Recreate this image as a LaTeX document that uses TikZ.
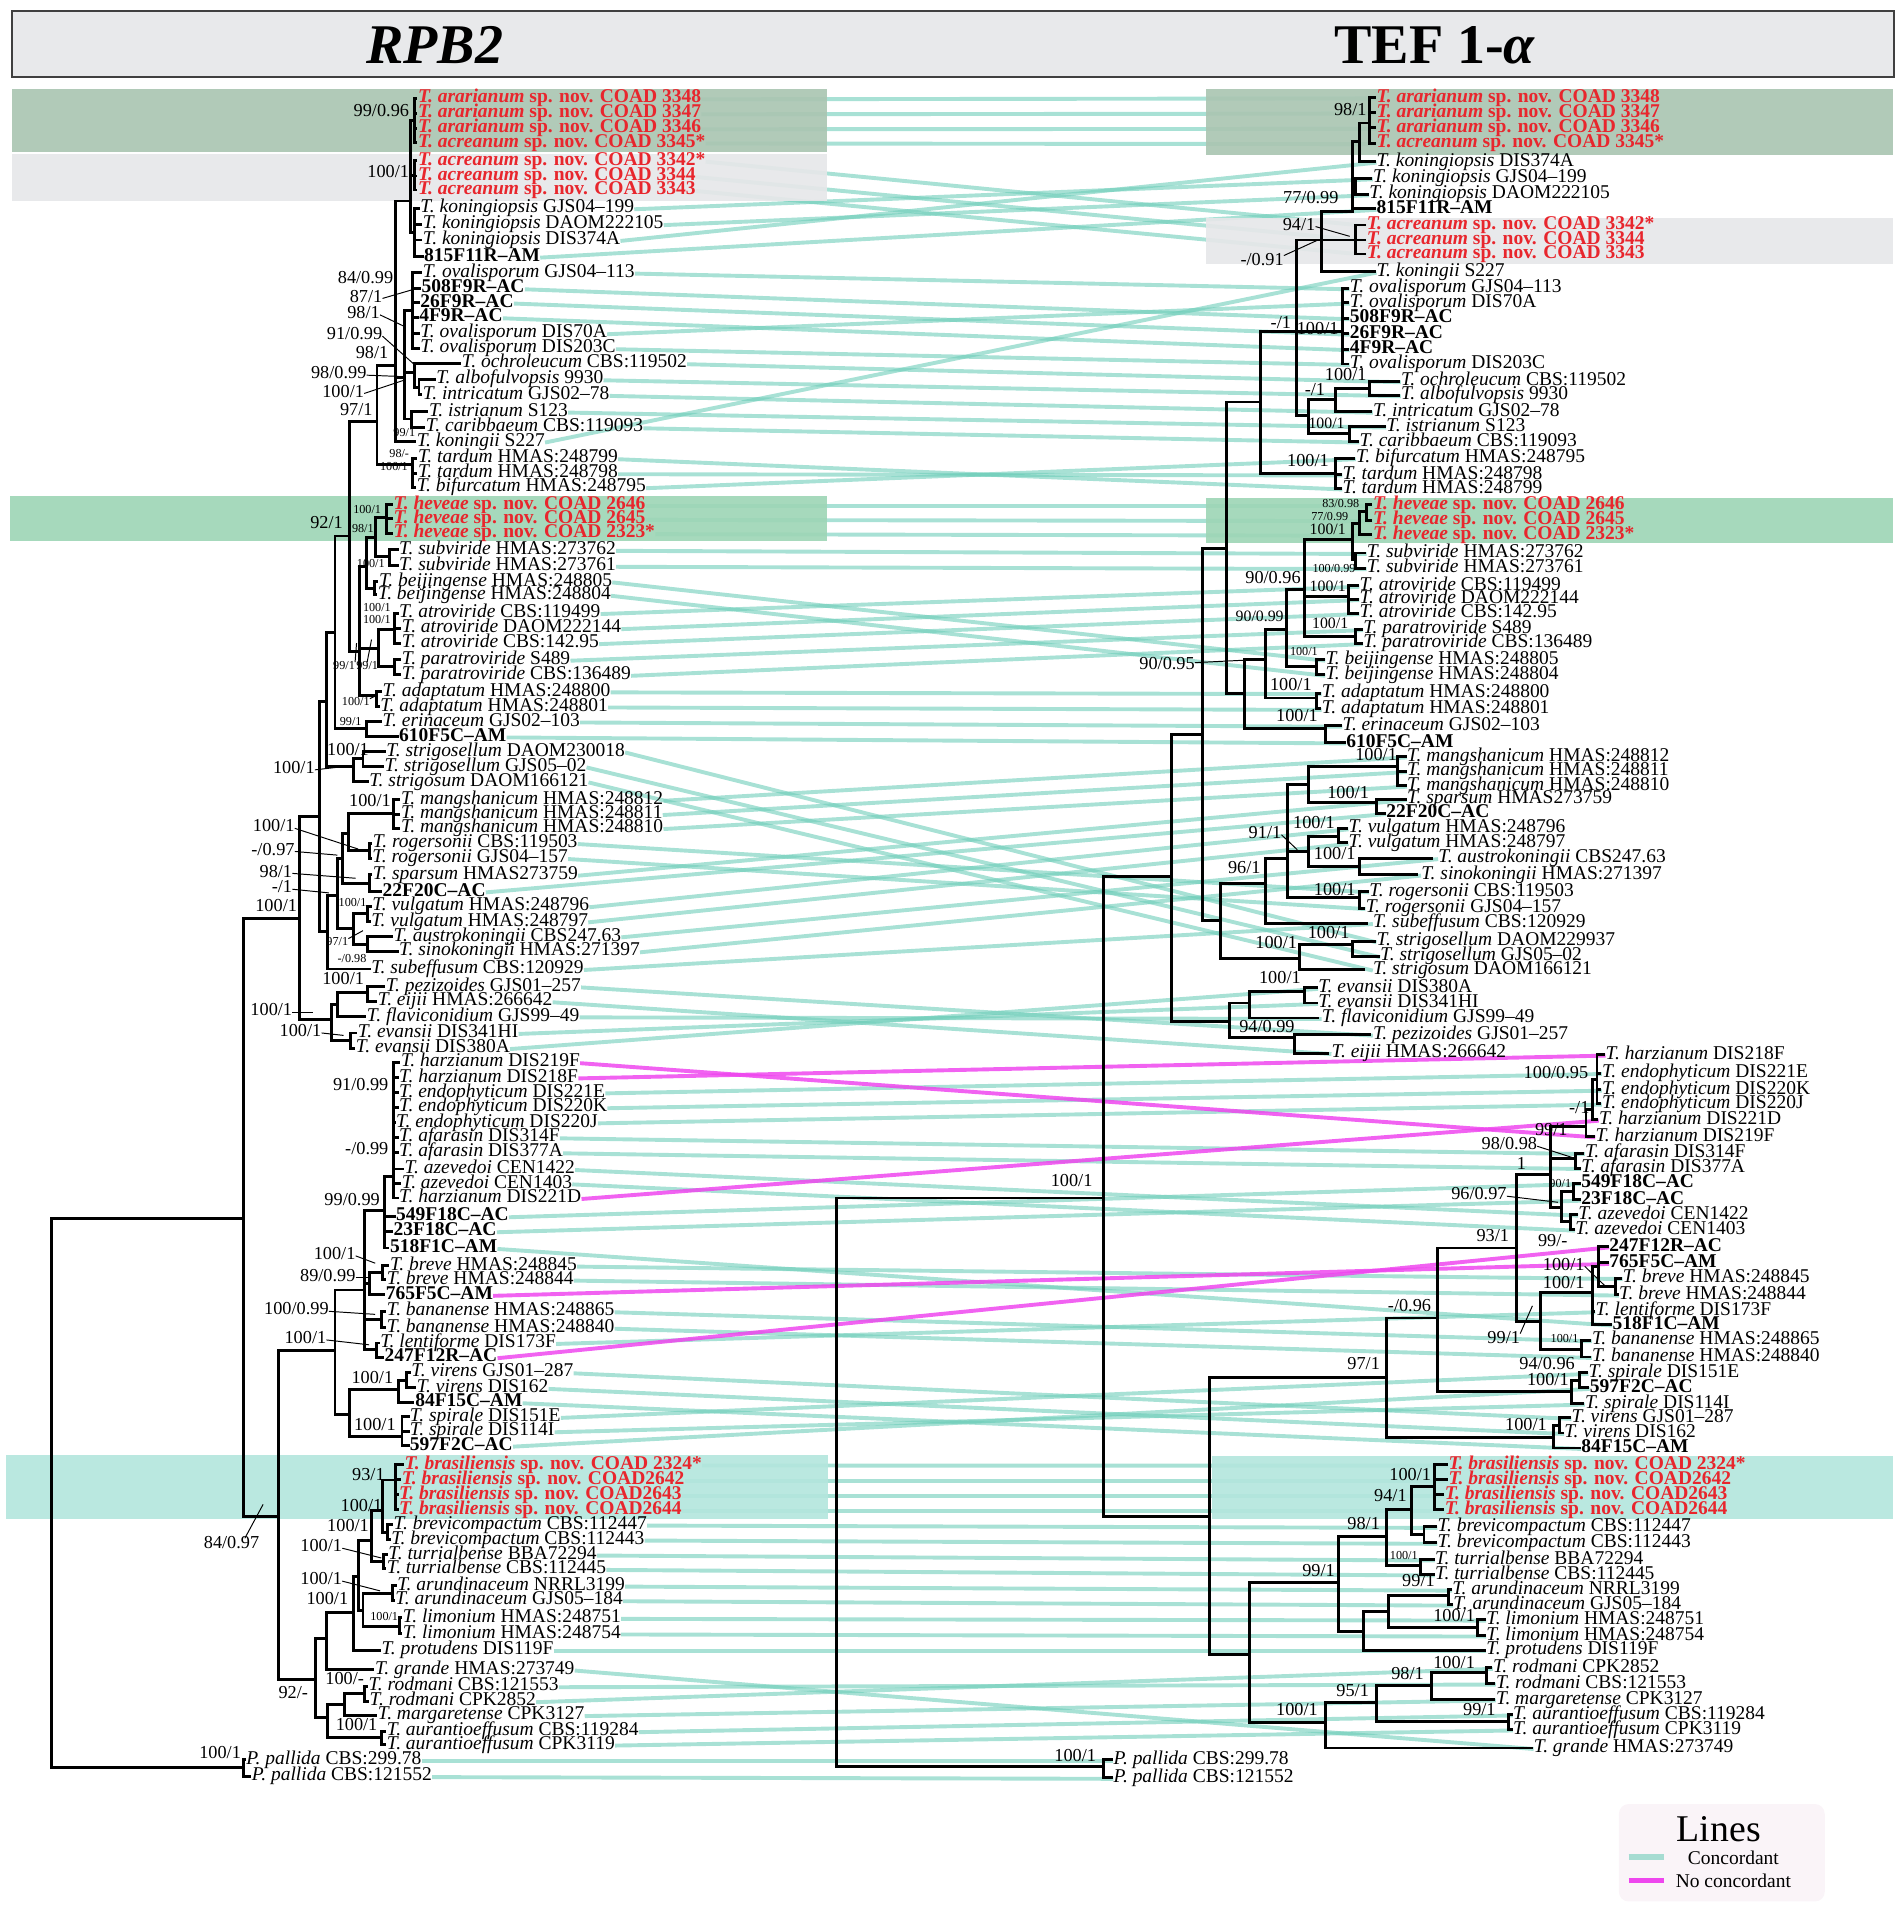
\documentclass[tikz,border=0pt]{standalone}
\usepackage{fontspec}
\setmainfont{Liberation Serif}
\pgfdeclarelayer{lines}
\pgfdeclarelayer{bands}
\pgfsetlayers{lines,bands,main}
\definecolor{novred}{RGB}{232,38,45}
\definecolor{sage}{RGB}{170,197,178}
\definecolor{bandgray}{RGB}{230,231,233}
\definecolor{bandgreen}{RGB}{158,214,182}
\definecolor{bandcyan}{RGB}{180,230,221}
\definecolor{concol}{RGB}{110,205,185}
\definecolor{nocol}{RGB}{238,70,238}
\definecolor{titlegray}{RGB}{232,233,235}
\definecolor{legbg}{RGB}{250,244,248}
\newcommand\tsp[2]{\textit{#1} #2}
\newcommand\tnov[2]{\textcolor{novred}{\bfseries\textit{#1} sp. nov. #2}}
\newcommand\tbd[1]{\textbf{#1}}
\newcommand\cl[4]{\draw[tree] (#1,#2) -- (#1,#3); \foreach \cy/\cx in {#4} {\draw[tree] (#1,\cy) -- (\cx,\cy);}}
\tikzset{
  tree/.style={line width=2.4pt, line cap=rect},
  lab/.style={anchor=west, inner sep=0pt, text height=8pt, text depth=2pt, yshift=-0.8pt, font=\fontsize{16}{16}\selectfont},
  sup/.style={anchor=east, inner sep=0pt, text height=8pt, text depth=2pt, font=\fontsize{15}{15}\selectfont},
  supm/.style={anchor=east, inner sep=0pt, text height=7pt, text depth=1.5pt, font=\fontsize{13}{13}\selectfont},
  sups/.style={anchor=east, inner sep=0pt, text height=5.5pt, text depth=1pt, font=\fontsize{10}{10}\selectfont},
  lead/.style={line width=0.8pt},
  conc/.style={draw=concol, line width=3.2pt, opacity=0.6},
  nocon/.style={draw=nocol, line width=3.2pt, opacity=0.85},
  band/.style={opacity=0.92}
}
\begin{document}
\begin{tikzpicture}[x=1pt,y=-1pt]
\useasboundingbox (0,0) rectangle (1561,1568);
% title bar
\draw[fill=titlegray, draw=black!75, line width=1.5pt] (10,9) rectangle (1555,63);
\node[font=\fontsize{46}{46}\selectfont\bfseries\itshape] (t1) at (357,37) {RPB2};
\node[font=\fontsize{46}{46}\selectfont\bfseries] (t2) at (1178,37) {TEF 1-\textit{α}};
% bands
\begin{pgfonlayer}{bands}
\fill[sage,band] (10,73.3) rectangle (679,124.5);
\fill[bandgray,band] (10,126.4) rectangle (679,164.7);
\fill[bandgreen,band] (8,407) rectangle (679,444.5);
\fill[bandcyan,band] (5,1194.7) rectangle (680,1246.7);
\fill[sage,band] (990,73.3) rectangle (1554,127.2);
\fill[bandgray,band] (990,179.2) rectangle (1554,217);
\fill[bandgreen,band] (990,409) rectangle (1554,446);
\fill[bandcyan,band] (995,1195.5) rectangle (1554,1247);
\end{pgfonlayer}
% left labels
\foreach \i/\xx/\yy/\lt in {
1/343/80.7/{\tnov{T. ararianum}{COAD 3348}},
2/343/93/{\tnov{T. ararianum}{COAD 3347}},
3/343/105.3/{\tnov{T. ararianum}{COAD 3346}},
4/343/117/{\tnov{T. acreanum}{COAD 3345*}},
5/343/131.9/{\tnov{T. acreanum}{COAD 3342*}},
6/343/144.5/{\tnov{T. acreanum}{COAD 3344}},
7/343/156/{\tnov{T. acreanum}{COAD 3343}},
8/345/171/{\tsp{T. koningiopsis}{GJS04–199}},
9/347/184/{\tsp{T. koningiopsis}{DAOM222105}},
10/347/197/{\tsp{T. koningiopsis}{DIS374A}},
11/348/210.7/{\tbd{815F11R–AM}},
12/347/223.8/{\tsp{T. ovalisporum}{GJS04–113}},
13/346/236.7/{\tbd{508F9R–AC}},
14/345/248.4/{\tbd{26F9R–AC}},
15/344/260.5/{\tbd{4F9R–AC}},
16/345/273.6/{\tsp{T. ovalisporum}{DIS70A}},
17/345/285.9/{\tsp{T. ovalisporum}{DIS203C}},
18/379/298.2/{\tsp{T. ochroleucum}{CBS:119502}},
19/358/311.4/{\tsp{T. albofulvopsis}{9930}},
20/347/324.2/{\tsp{T. intricatum}{GJS02–78}},
21/352/337.9/{\tsp{T. istrianum}{S123}},
22/349.5/350.8/{\tsp{T. caribbaeum}{CBS:119093}},
23/342/362.5/{\tsp{T. koningii}{S227}},
24/343/376.2/{\tsp{T. tardum}{HMAS:248799}},
25/343/388.5/{\tsp{T. tardum}{HMAS:248798}},
26/342/400/{\tsp{T. bifurcatum}{HMAS:248795}},
27/323/414.4/{\tnov{T. heveae}{COAD 2646}},
28/323/426/{\tnov{T. heveae}{COAD 2645}},
29/323/437.7/{\tnov{T. heveae}{COAD 2323*}},
30/327.5/451.4/{\tsp{T. subviride}{HMAS:273762}},
31/327.5/464.5/{\tsp{T. subviride}{HMAS:273761}},
32/311/477.3/{\tsp{T. beijingense}{HMAS:248805}},
33/310/488.3/{\tsp{T. beijingense}{HMAS:248804}},
34/327.5/503.3/{\tsp{T. atroviride}{CBS:119499}},
35/329.7/515.7/{\tsp{T. atroviride}{DAOM222144}},
36/329.7/528/{\tsp{T. atroviride}{CBS:142.95}},
37/329.7/541.6/{\tsp{T. paratroviride}{S489}},
38/329.7/554/{\tsp{T. paratroviride}{CBS:136489}},
39/314/567.6/{\tsp{T. adaptatum}{HMAS:248800}},
40/312/580/{\tsp{T. adaptatum}{HMAS:248801}},
41/314/592.3/{\tsp{T. erinaceum}{GJS02–103}},
42/327.5/604.6/{\tbd{610F5C–AM}},
43/317/616.9/{\tsp{T. strigosellum}{DAOM230018}},
44/315.6/629.2/{\tsp{T. strigosellum}{GJS05–02}},
45/303/641.5/{\tsp{T. strigosum}{DAOM166121}},
46/329/656.6/{\tsp{T. mangshanicum}{HMAS:248812}},
47/329/668.3/{\tsp{T. mangshanicum}{HMAS:248811}},
48/329/679.8/{\tsp{T. mangshanicum}{HMAS:248810}},
49/306/692.1/{\tsp{T. rogersonii}{CBS:119503}},
50/305.5/704.4/{\tsp{T. rogersonii}{GJS04–157}},
51/306/718.1/{\tsp{T. sparsum}{HMAS273759}},
52/314/731.8/{\tbd{22F20C–AC}},
53/305.5/744/{\tsp{T. vulgatum}{HMAS:248796}},
54/304.6/756.4/{\tsp{T. vulgatum}{HMAS:248797}},
55/323/768.7/{\tsp{T. austrokoningii}{CBS247.63}},
56/327.5/781/{\tsp{T. sinokoningii}{HMAS:271397}},
57/304.6/795.5/{\tsp{T. subeffusum}{CBS:120929}},
58/316.5/809.8/{\tsp{T. pezizoides}{GJS01–257}},
59/310/822/{\tsp{T. eijii}{HMAS:266642}},
60/301/834.4/{\tsp{T. flaviconidium}{GJS99–49}},
61/293.6/848/{\tsp{T. evansii}{DIS341HI}},
62/292/860.4/{\tsp{T. evansii}{DIS380A}},
63/329/872/{\tsp{T. harzianum}{DIS219F}},
64/327.5/884.5/{\tsp{T. harzianum}{DIS218F}},
65/327.5/896.8/{\tsp{T. endophyticum}{DIS221E}},
66/327.5/909/{\tsp{T. endophyticum}{DIS220K}},
67/325/921.4/{\tsp{T. endophyticum}{DIS220J}},
68/327.5/933.7/{\tsp{T. afarasin}{DIS314F}},
69/327.5/946/{\tsp{T. afarasin}{DIS377A}},
70/332/959.7/{\tsp{T. azevedoi}{CEN1422}},
71/329.7/971.5/{\tsp{T. azevedoi}{CEN1403}},
72/327.5/983.5/{\tsp{T. harzianum}{DIS221D}},
73/325/998.5/{\tbd{549F18C–AC}},
74/323/1010.8/{\tbd{23F18C–AC}},
75/320/1024.5/{\tbd{518F1C–AM}},
76/320/1039/{\tsp{T. breve}{HMAS:248845}},
77/317.4/1050.5/{\tsp{T. breve}{HMAS:248844}},
78/316.5/1063/{\tbd{765F5C–AM}},
79/317.4/1076.5/{\tsp{T. bananense}{HMAS:248865}},
80/317.4/1090/{\tsp{T. bananense}{HMAS:248840}},
81/312/1102.5/{\tsp{T. lentiforme}{DIS173F}},
82/315.6/1114.2/{\tbd{247F12R–AC}},
83/337.6/1126.6/{\tsp{T. virens}{GJS01–287}},
84/342/1139.4/{\tsp{T. virens}{DIS162}},
85/340.7/1151.2/{\tbd{84F15C–AM}},
86/336.3/1163.2/{\tsp{T. spirale}{DIS151E}},
87/336.3/1175/{\tsp{T. spirale}{DIS114I}},
88/336.3/1186.8/{\tbd{597F2C–AC}},
89/332/1202.3/{\tnov{T. brasiliensis}{COAD 2324*}},
90/329.7/1214.7/{\tnov{T. brasiliensis}{COAD2642}},
91/327.5/1227/{\tnov{T. brasiliensis}{COAD2643}},
92/327.5/1239.3/{\tnov{T. brasiliensis}{COAD2644}},
93/323/1251.6/{\tsp{T. brevicompactum}{CBS:112447}},
94/321/1263.9/{\tsp{T. brevicompactum}{CBS:112443}},
95/318.7/1276.2/{\tsp{T. turrialbense}{BBA72294}},
96/317.4/1288/{\tsp{T. turrialbense}{CBS:112445}},
97/326/1301.7/{\tsp{T. arundinaceum}{NRRL3199}},
98/324.4/1313.7/{\tsp{T. arundinaceum}{GJS05–184}},
99/330.6/1328.2/{\tsp{T. limonium}{HMAS:248751}},
100/330.6/1341/{\tsp{T. limonium}{HMAS:248754}},
101/313/1354.7/{\tsp{T. protudens}{DIS119F}},
102/307.7/1370.6/{\tsp{T. grande}{HMAS:273749}},
103/302.4/1384.3/{\tsp{T. rodmani}{CBS:121553}},
104/303.3/1396.6/{\tsp{T. rodmani}{CPK2852}},
105/310/1408/{\tsp{T. margaretense}{CPK3127}},
106/317.4/1421.2/{\tsp{T. aurantioeffusum}{CBS:119284}},
107/317.4/1432.2/{\tsp{T. aurantioeffusum}{CPK3119}},
108/202/1444.5/{\tsp{P. pallida}{CBS:299.78}},
109/206.6/1458.1/{\tsp{P. pallida}{CBS:121552}}
}{\node[lab] (L\i) at (\xx,\yy) {\lt};}
% right labels
\foreach \i/\xx/\yy/\lt in {
1/1130/80/{\tnov{T. ararianum}{COAD 3348}},
2/1130/92.5/{\tnov{T. ararianum}{COAD 3347}},
3/1130/105/{\tnov{T. ararianum}{COAD 3346}},
4/1130/117.5/{\tnov{T. acreanum}{COAD 3345*}},
5/1130/132.7/{\tsp{T. koningiopsis}{DIS374A}},
6/1127/146.4/{\tsp{T. koningiopsis}{GJS04–199}},
7/1124/159.5/{\tsp{T. koningiopsis}{DAOM222105}},
8/1130/171.5/{\tbd{815F11R–AM}},
9/1122/184.7/{\tnov{T. acreanum}{COAD 3342*}},
10/1122/197/{\tnov{T. acreanum}{COAD 3344}},
11/1122/208.5/{\tnov{T. acreanum}{COAD 3343}},
12/1130/223/{\tsp{T. koningii}{S227}},
13/1108/236.7/{\tsp{T. ovalisporum}{GJS04–113}},
14/1108/248.4/{\tsp{T. ovalisporum}{DIS70A}},
15/1108/261.3/{\tbd{508F9R–AC}},
16/1108/274/{\tbd{26F9R–AC}},
17/1108/286.7/{\tbd{4F9R–AC}},
18/1108/298.8/{\tsp{T. ovalisporum}{DIS203C}},
19/1150/313/{\tsp{T. ochroleucum}{CBS:119502}},
20/1150/324.5/{\tsp{T. albofulvopsis}{9930}},
21/1127/338/{\tsp{T. intricatum}{GJS02–78}},
22/1138/350.2/{\tsp{T. istrianum}{S123}},
23/1116/362.5/{\tsp{T. caribbaeum}{CBS:119093}},
24/1113/376.2/{\tsp{T. bifurcatum}{HMAS:248795}},
25/1102/389.5/{\tsp{T. tardum}{HMAS:248798}},
26/1102/401/{\tsp{T. tardum}{HMAS:248799}},
27/1127/414.4/{\tnov{T. heveae}{COAD 2646}},
28/1127/427/{\tnov{T. heveae}{COAD 2645}},
29/1127/439/{\tnov{T. heveae}{COAD 2323*}},
30/1122/454/{\tsp{T. subviride}{HMAS:273762}},
31/1122/466.4/{\tsp{T. subviride}{HMAS:273761}},
32/1116/480.9/{\tsp{T. atroviride}{CBS:119499}},
33/1116/491.8/{\tsp{T. atroviride}{DAOM222144}},
34/1116/503.3/{\tsp{T. atroviride}{CBS:142.95}},
35/1119/516.5/{\tsp{T. paratroviride}{S489}},
36/1119/528/{\tsp{T. paratroviride}{CBS:136489}},
37/1088/541.6/{\tsp{T. beijingense}{HMAS:248805}},
38/1088/554/{\tsp{T. beijingense}{HMAS:248804}},
39/1085/569/{\tsp{T. adaptatum}{HMAS:248800}},
40/1085/582/{\tsp{T. adaptatum}{HMAS:248801}},
41/1102/595.8/{\tsp{T. erinaceum}{GJS02–103}},
42/1105/609.5/{\tbd{610F5C–AM}},
43/1155/621/{\tsp{T. mangshanicum}{HMAS:248812}},
44/1155/633/{\tsp{T. mangshanicum}{HMAS:248811}},
45/1155/645/{\tsp{T. mangshanicum}{HMAS:248810}},
46/1155/656/{\tsp{T. sparsum}{HMAS273759}},
47/1138/667.5/{\tbd{22F20C–AC}},
48/1107/680/{\tsp{T. vulgatum}{HMAS:248796}},
49/1107/692/{\tsp{T. vulgatum}{HMAS:248797}},
50/1180.6/704.5/{\tsp{T. austrokoningii}{CBS247.63}},
51/1166.6/718/{\tsp{T. sinokoningii}{HMAS:271397}},
52/1124/731.8/{\tsp{T. rogersonii}{CBS:119503}},
53/1121/745.5/{\tsp{T. rogersonii}{GJS04–157}},
54/1127/757.8/{\tsp{T. subeffusum}{CBS:120929}},
55/1130/772.8/{\tsp{T. strigosellum}{DAOM229937}},
56/1133/785/{\tsp{T. strigosellum}{GJS05–02}},
57/1127/796/{\tsp{T. strigosum}{DAOM166121}},
58/1082/811/{\tsp{T. evansii}{DIS380A}},
59/1082/823.4/{\tsp{T. evansii}{DIS341HI}},
60/1085/835.7/{\tsp{T. flaviconidium}{GJS99–49}},
61/1127/849.4/{\tsp{T. pezizoides}{GJS01–257}},
62/1093/864.5/{\tsp{T. eijii}{HMAS:266642}},
63/1318/865.8/{\tsp{T. harzianum}{DIS218F}},
64/1315/880.9/{\tsp{T. endophyticum}{DIS221E}},
65/1315/894.6/{\tsp{T. endophyticum}{DIS220K}},
66/1315/906/{\tsp{T. endophyticum}{DIS220J}},
67/1312.5/919.2/{\tsp{T. harzianum}{DIS221D}},
68/1309.6/932.9/{\tsp{T. harzianum}{DIS219F}},
69/1301/946.6/{\tsp{T. afarasin}{DIS314F}},
70/1298/958.9/{\tsp{T. afarasin}{DIS377A}},
71/1298/971.2/{\tbd{549F18C–AC}},
72/1298/984.9/{\tbd{23F18C–AC}},
73/1295.6/997.2/{\tsp{T. azevedoi}{CEN1422}},
74/1293/1009.5/{\tsp{T. azevedoi}{CEN1403}},
75/1321/1023.2/{\tbd{247F12R–AC}},
76/1321/1036.8/{\tbd{765F5C–AM}},
77/1332/1049.2/{\tsp{T. breve}{HMAS:248845}},
78/1329/1062.8/{\tsp{T. breve}{HMAS:248844}},
79/1309.6/1076.5/{\tsp{T. lentiforme}{DIS173F}},
80/1323.7/1087.4/{\tbd{518F1C–AM}},
81/1306.8/1100.3/{\tsp{T. bananense}{HMAS:248865}},
82/1306.8/1114/{\tsp{T. bananense}{HMAS:248840}},
83/1304/1127.1/{\tsp{T. spirale}{DIS151E}},
84/1305/1139.4/{\tbd{597F2C–AC}},
85/1301/1152.3/{\tsp{T. spirale}{DIS114I}},
86/1290/1164/{\tsp{T. virens}{GJS01–287}},
87/1284/1176.4/{\tsp{T. virens}{DIS162}},
88/1298/1188.7/{\tbd{84F15C–AM}},
89/1189/1202.4/{\tnov{T. brasiliensis}{COAD 2324*}},
90/1189/1214.7/{\tnov{T. brasiliensis}{COAD2642}},
91/1186/1227/{\tnov{T. brasiliensis}{COAD2643}},
92/1186/1239.3/{\tnov{T. brasiliensis}{COAD2644}},
93/1180/1253.5/{\tsp{T. brevicompactum}{CBS:112447}},
94/1180/1266.6/{\tsp{T. brevicompactum}{CBS:112443}},
95/1178/1280.3/{\tsp{T. turrialbense}{BBA72294}},
96/1178/1292.6/{\tsp{T. turrialbense}{CBS:112445}},
97/1192/1305/{\tsp{T. arundinaceum}{NRRL3199}},
98/1193/1317.3/{\tsp{T. arundinaceum}{GJS05–184}},
99/1220/1329.6/{\tsp{T. limonium}{HMAS:248751}},
100/1220/1342.7/{\tsp{T. limonium}{HMAS:248754}},
101/1220/1354.7/{\tsp{T. protudens}{DIS119F}},
102/1225.5/1369.2/{\tsp{T. rodmani}{CPK2852}},
103/1228/1382.1/{\tsp{T. rodmani}{CBS:121553}},
104/1228/1395.2/{\tsp{T. margaretense}{CPK3127}},
105/1242/1407.5/{\tsp{T. aurantioeffusum}{CBS:119284}},
106/1242/1419.8/{\tsp{T. aurantioeffusum}{CPK3119}},
107/1259/1435/{\tsp{T. grande}{HMAS:273749}},
108/914/1444.5/{\tsp{P. pallida}{CBS:299.78}},
109/914/1459.5/{\tsp{P. pallida}{CBS:121552}}
}{\node[lab] (R\i) at (\xx,\yy) {\lt};}
% connectors
\begin{pgfonlayer}{lines}
\foreach \a/\b in {1/1,2/2,3/3,4/4,5/9,6/10,7/11,8/6,9/7,10/5,11/8,12/13,13/15,14/16,15/17,16/14,17/18,18/19,19/20,20/21,21/22,22/23,23/12,24/26,25/25,26/24,27/27,28/28,29/29,30/30,31/31,32/37,33/38,34/32,35/33,36/34,37/35,38/36,39/39,40/40,41/41,42/42,43/55,44/56,45/57,46/43,47/44,48/45,49/52,50/53,51/46,52/47,53/48,54/49,55/50,56/51,57/54,58/61,59/62,60/60,61/59,62/58,65/64,66/65,67/66,68/69,69/70,70/73,71/74,73/71,74/72,75/80,76/77,77/78,79/81,80/82,81/79,83/86,84/87,85/88,86/83,87/85,88/84,89/89,90/90,91/91,92/92,93/93,94/94,95/95,96/96,97/97,98/98,99/99,100/100,101/101,102/107,103/103,104/102,105/104,106/105,107/106,108/108,109/109}
  {\draw[conc] (L\a.east) -- (R\b.west);}
\foreach \a/\b in {63/68,64/63,72/67,78/76,82/75}
  {\draw[nocon] (L\a.east) -- (R\b.west);}
\end{pgfonlayer}
% left tree
\cl{340.5}{80.7}{117}{80.7/341.5,93/341.5,105.3/341.5,117/341.5}
\cl{340.5}{131.9}{156}{131.9/341.5,144.5/341.5,156/341.5}
\cl{340.5}{171}{210.7}{171/343.5,184/345.5,197/345.5,210.7/346.5}
\cl{337}{99}{191}{99/340.5,144/340.5,191/340.5}
\cl{339}{223.8}{285.9}{223.8/345.5,236.7/344.5,248.4/343.5,260.5/342.5,273.6/343.5,285.9/343.5}
\cl{344}{311.4}{324.2}{311.4/356.5,324.2/345.5}
\cl{340}{298.2}{318}{298.2/377.5,318/344}
\cl{338}{337.9}{350.8}{337.9/350.5,350.8/348}
\cl{332}{255}{344}{255/339,306/340,344/338}
\cl{325}{165}{362.5}{165/337,310/332,362.5/340.5}
\cl{338.5}{376.2}{400}{376.2/341.5,388.5/341.5,400/340.5}
\cl{309.5}{300}{381}{300/325,381/338.5}
\cl{317}{414.4}{437.7}{414.4/321.5,426/321.5,437.7/321.5}
\cl{320}{451.4}{464.5}{451.4/326,464.5/326}
\cl{308}{425}{457}{425/317,457/320}
\cl{307.8}{477.3}{488.3}{477.3/309.5,488.3/308.5}
\cl{301}{441}{483}{441/308,483/307.8}
\cl{324}{503.3}{528}{503.3/326,515.7/328,528/328}
\cl{324}{541.6}{554}{541.6/328,554/328}
\cl{310.6}{517}{547}{517/324,547/324}
\cl{309}{567.6}{580}{567.6/312.5,580/310.5}
\cl{295.5}{465}{571}{465/301,532/310.6,571/309}
\cl{286.7}{346}{535}{346/309.5,535/295.5}
\cl{301}{592.3}{604.6}{592.3/312.5,604.6/326}
\cl{275}{440}{598}{440/286.7,598/301}
\cl{298}{616.9}{629.2}{616.9/315.5,629.2/314}
\cl{290}{623}{641.5}{623/298,641.5/301.5}
\cl{268}{519}{629}{519/275,629/290}
\cl{323}{656.6}{679.8}{656.6/327.5,668.3/327.5,679.8/327.5}
\cl{303}{692.1}{704.4}{692.1/304.5,704.4/304}
\cl{286}{668}{698}{668/323,698/303}
\cl{303}{718.1}{731.8}{718.1/304.5,731.8/312.5}
\cl{281}{684}{725}{684/286,725/303}
\cl{302}{744}{756.4}{744/304,756.4/303}
\cl{302}{768.7}{781}{768.7/321.5,781/326}
\cl{290}{750}{775}{750/302,775/302}
\cl{277}{705}{762}{705/281,762/290}
\cl{269}{735}{795.5}{735/277,795.5/303}
\cl{262}{576}{765}{576/268,765/269}
\cl{302}{809.8}{822}{809.8/315,822/308.5}
\cl{277}{815}{834.4}{815/302,834.4/299.5}
\cl{288}{848}{860.4}{848/292,860.4/290.5}
\cl{272}{825}{854}{825/277,854/288}
\cl{246}{670}{837}{670/262,837/272}
\cl{323}{872}{983.5}{872/327.5,884.5/326,896.8/326,909/326,921.4/324,933.7/326,946/326,959.7/330.5,971.5/328,983.5/326}
\cl{316}{966}{1024.5}{966/323,998.5/323.5,1010.8/321.5,1024.5/318.5}
\cl{314}{1039}{1050.5}{1039/318.5,1050.5/316}
\cl{303}{1045}{1063}{1045/314,1063/315}
\cl{313}{1076.5}{1090}{1076.5/316,1090/316}
\cl{309}{1102.5}{1114.2}{1102.5/310.5,1114.2/314}
\cl{299}{994}{1108}{994/316,1054/303,1083/313,1108/309}
\cl{334}{1126.6}{1139.4}{1126.6/336,1139.4/340.5}
\cl{327}{1133}{1151.2}{1133/334,1151.2/339}
\cl{330}{1163.2}{1186.8}{1163.2/335,1175/335,1186.8/335}
\cl{287}{1141}{1179}{1141/327,1179/330}
\cl{275}{1059}{1161}{1059/299,1161/287}
\cl{325}{1202.3}{1239.3}{1202.3/330.5,1214.7/328,1227/326,1239.3/326}
\cl{318}{1251.6}{1263.9}{1251.6/321.5,1263.9/319.5}
\cl{314}{1215}{1258}{1215/325,1258/318}
\cl{315}{1276.2}{1288}{1276.2/317,1288/316}
\cl{305}{1240}{1282}{1240/314,1282/315}
\cl{322}{1301.7}{1313.7}{1301.7/324.5,1313.7/323}
\cl{328}{1328.2}{1341}{1328.2/329,1341/329}
\cl{298}{1308}{1335}{1308/322,1335/328}
\cl{294}{1265}{1322}{1265/305,1322/298}
\cl{290}{1294}{1354.7}{1294/294,1354.7/311.5}
\cl{268}{1324}{1370.6}{1324/290,1370.6/306}
\cl{299}{1384.3}{1396.6}{1384.3/301,1396.6/302}
\cl{283}{1390}{1408}{1390/299,1408/308.5}
\cl{313}{1421.2}{1432.2}{1421.2/316,1432.2/316}
\cl{269}{1399}{1426}{1399/283,1426/313}
\cl{259}{1345}{1410}{1345/268,1410/269}
\cl{229}{1109}{1379}{1109/275,1379/259}
\cl{200}{754}{1245}{754/246,1245/229}
\cl{200}{1444.5}{1458.1}{1444.5/201,1458.1/205}
\cl{42}{1000}{1451}{1000/200,1451/200}
% right tree
\cl{1124}{80}{117.5}{80/1128.5,92.5/1128.5,105/1128.5,117.5/1128.5}
\cl{1116}{101}{132.7}{101/1124,132.7/1128.5}
\cl{1113}{146.4}{159.5}{146.4/1125.5,159.5/1122.5}
\cl{1110}{116}{174}{116/1116,152/1113,171.5/1128.5}
\cl{1113}{184.7}{208.5}{184.7/1120.5,197/1120.5,208.5/1120.5}
\cl{1085}{174}{223}{174/1110,197/1113,223/1128.5}
\cl{1102}{236.7}{298.8}{236.7/1106.5,248.4/1106.5,261.3/1106.5,274/1106.5,286.7/1106.5,298.8/1106.5}
\cl{1124}{313}{324.5}{313/1148.5,324.5/1148.5}
\cl{1096}{319}{338}{319/1124,338/1125.5}
\cl{1108}{350.2}{362.5}{350.2/1136.5,362.5/1114.5}
\cl{1074}{328}{356}{328/1096,356/1108}
\cl{1064}{197}{341}{197/1085,272/1102,341/1074}
\cl{1096}{376.2}{401}{376.2/1111.5,389.5/1100.5,401/1100.5}
\cl{1035}{272}{388.5}{272/1064,388.5/1096}
\cl{1121.7}{414.4}{427}{414.4/1125.5,427/1125.5}
\cl{1116}{420}{439}{420/1121.7,439/1125.5}
\cl{1113}{454}{466.4}{454/1120.5,466.4/1120.5}
\cl{1110}{429.5}{459.6}{429.5/1116,459.6/1113}
\cl{1107}{480.9}{503.3}{480.9/1114.5,491.8/1114.5,503.3/1114.5}
\cl{1113}{516.5}{528}{516.5/1117.5,528/1117.5}
\cl{1071}{443}{522.5}{443/1110,490/1107,522.5/1113}
\cl{1081}{541.6}{554}{541.6/1086.5,554/1086.5}
\cl{1056}{484}{547}{484/1071,547/1081}
\cl{1081}{569}{582}{569/1083.5,582/1083.5}
\cl{1039}{517}{573}{517/1056,573/1081}
\cl{1088}{595.8}{609.5}{595.8/1100.5,609.5/1103.5}
\cl{1022}{541.6}{598}{541.6/1039,598/1088}
\cl{1006.6}{330}{569}{330/1035,569/1022}
\cl{1147}{621}{645}{621/1153.5,633/1153.5,645/1153.5}
\cl{1130}{656}{667.5}{656/1153.5,667.5/1136.5}
\cl{1074}{629}{659}{629/1147,659/1130}
\cl{1099}{680}{692}{680/1105.5,692/1105.5}
\cl{1116}{704.5}{718}{704.5/1175,718/1163}
\cl{1074}{686.7}{711.6}{686.7/1099,711.6/1116}
\cl{1116}{731.8}{745.5}{731.8/1122.5,745.5/1119.5}
\cl{1057}{644}{737}{644/1074,699/1074,737/1116}
\cl{1039}{705}{757.8}{705/1057,757.8/1122}
\cl{1110}{772.8}{785}{772.8/1128.5,785/1131.5}
\cl{1067}{775.6}{796}{775.6/1110,796/1119}
\cl{1002}{725}{786.5}{725/1039,786.5/1067}
\cl{987}{450}{756}{450/1006.6,756/1002}
\cl{1071}{811}{823.4}{811/1080.5,823.4/1080.5}
\cl{1026}{814}{835.7}{814/1071,835.7/1082}
\cl{1063}{849.4}{864.5}{849.4/1124,864.5/1090}
\cl{1009}{823.4}{852}{823.4/1026,852/1063}
\cl{962}{603}{838.5}{603/987,838.5/1009}
\cl{1311}{865.8}{906}{865.8/1316.5,880.9/1313.5,894.6/1313.5,906/1313.5}
\cl{1307}{886}{919.2}{886/1311,919.2/1311}
\cl{1302}{911}{932.9}{911/1307,932.9/1308}
\cl{1293}{946.6}{958.9}{946.6/1299.5,958.9/1296.5}
\cl{1292}{971.2}{984.9}{971.2/1296.5,984.9/1296.5}
\cl{1289}{997.2}{1009.5}{997.2/1294,1009.5/1291.5}
\cl{1282}{978}{1003}{978/1292,1003/1289}
\cl{1273}{925}{991}{925/1302,951/1293,991/1282}
\cl{1326}{1049.2}{1062.8}{1049.2/1330.5,1062.8/1327.5}
\cl{1312}{1023.2}{1056}{1023.2/1319.5,1036.8/1319.5,1056/1326}
\cl{1307}{1040}{1087.4}{1040/1312,1076.5/1308,1087.4/1322}
\cl{1298}{1100.3}{1114}{1100.3/1305,1114/1305}
\cl{1265}{1061}{1108}{1061/1307,1108/1298}
\cl{1245}{964}{1085}{964/1273,1085/1265}
\cl{1297}{1127.1}{1139.4}{1127.1/1302.5,1139.4/1303.5}
\cl{1290}{1133}{1152.3}{1133/1297,1152.3/1299.5}
\cl{1180}{1024.5}{1142}{1024.5/1245,1142/1290}
\cl{1280}{1164}{1176.4}{1164/1288.5,1176.4/1282.5}
\cl{1275}{1170}{1188.7}{1170/1280,1188.7/1296.5}
\cl{1138}{1082}{1180}{1082/1180,1180/1275}
\cl{1178}{1202.4}{1239.3}{1202.4/1187.5,1214.7/1187.5,1227/1184.5,1239.3/1184.5}
\cl{1169}{1253.5}{1266.6}{1253.5/1178.5,1266.6/1178.5}
\cl{1159}{1220}{1260}{1220/1178,1260/1169}
\cl{1166}{1280.3}{1292.6}{1280.3/1176.5,1292.6/1176.5}
\cl{1138}{1239}{1285}{1239/1159,1285/1166}
\cl{1189}{1305}{1317.3}{1305/1190.5,1317.3/1191.5}
\cl{1213}{1329.6}{1342.7}{1329.6/1218.5,1342.7/1218.5}
\cl{1140}{1310}{1336}{1310/1189,1336/1213}
\cl{1119}{1323}{1354.7}{1323/1140,1354.7/1218.5}
\cl{1099}{1261}{1339}{1261/1138,1339/1119}
\cl{1220}{1369.2}{1382.1}{1369.2/1224,1382.1/1226.5}
\cl{1175}{1373}{1395.2}{1373/1220,1395.2/1226.5}
\cl{1238}{1407.5}{1419.8}{1407.5/1240.5,1419.8/1240.5}
\cl{1130}{1384}{1413}{1384/1175,1413/1238}
\cl{1088}{1398}{1435}{1398/1130,1435/1257.5}
\cl{1026}{1299.5}{1414}{1299.5/1099,1414/1088}
\cl{992.6}{1131}{1358}{1131/1138,1358/1026}
\cl{905.6}{719.5}{1245}{719.5/962,1245/992.6}
\cl{905.6}{1444.5}{1459.5}{1444.5/912.5,1459.5/912.5}
\cl{686.8}{983.5}{1450.5}{983.5/905.6,1450.5/905.6}
% left support values
\node[sup] (sl1) at (336,93) {99/0.96};
\node[sup] (sl2) at (336,143) {100/1};
\node[sup] (sl3) at (323,230) {84/0.99};
\node[sup] (sl4) at (314,245) {87/1};
\node[sup] (sl5) at (312,258.5) {98/1};
\node[sup] (sl6) at (314,276) {91/0.99};
\node[sup] (sl7) at (319,291) {98/1};
\node[sup] (sl8) at (301,308) {98/0.99};
\node[sup] (sl9) at (299,323) {100/1};
\node[sup] (sl10) at (306,338) {97/1};
\node[sups] (sl11) at (341,356) {99/1};
\node[sups] (sl12) at (336,373.4) {98/-};
\node[sups] (sl13) at (335,384) {100/1};
\node[sups] (sl14) at (313,419) {100/1};
\node[sups] (sl15) at (307,435) {98/1};
\node[sups] (sl16) at (316,464) {100/1};
\node[sups] (sl17) at (321,500) {100/1};
\node[sups] (sl18) at (321,510) {100/1};
\node[sups] (sl19) at (310.5,547) {99/1};
\node[sups] (sl20) at (291.5,547) {99/1};
\node[sup] (sl21) at (281.6,431) {92/1};
\node[sups] (sl22) at (303.7,577) {100/1};
\node[sups] (sl23) at (297,593.6) {99/1};
\node[sup] (sl24) at (303,617) {100/1};
\node[sup] (sl25) at (258.5,632) {100/1};
\node[sup] (sl26) at (321,659) {100/1};
\node[sup] (sl27) at (242,680) {100/1};
\node[sup] (sl28) at (242,699) {-/0.97};
\node[sup] (sl29) at (240,717) {98/1};
\node[sup] (sl30) at (240,730) {-/1};
\node[sup] (sl31) at (244,745) {100/1};
\node[sups] (sl32) at (301,742) {100/1};
\node[sups] (sl33) at (286,774) {97/1};
\node[sups] (sl34) at (301,788) {-/0.98};
\node[sup] (sl35) at (299,805) {100/1};
\node[sup] (sl36) at (240,831) {100/1};
\node[sup] (sl37) at (264,848) {100/1};
\node[sup] (sl38) at (319,892) {91/0.99};
\node[sup] (sl39) at (319,945) {-/0.99};
\node[sup] (sl40) at (312,987) {99/0.99};
\node[sup] (sl41) at (292,1031) {100/1};
\node[sup] (sl42) at (292,1049) {89/0.99};
\node[sup] (sl43) at (270,1076.5) {100/0.99};
\node[sup] (sl44) at (268,1100) {100/1};
\node[sup] (sl45) at (323,1133) {100/1};
\node[sup] (sl46) at (325,1171) {100/1};
\node[sup] (sl47) at (316,1212) {93/1};
\node[sup] (sl48) at (314,1238) {100/1};
\node[sup] (sl49) at (303,1254) {100/1};
\node[sup] (sl50) at (281,1271) {100/1};
\node[sup] (sl51) at (281,1298) {100/1};
\node[sup] (sl52) at (286,1314) {100/1};
\node[sups] (sl53) at (327,1328) {100/1};
\node[sup] (sl54) at (299,1380) {100/-};
\node[sup] (sl55) at (253,1391) {92/-};
\node[sup] (sl56) at (310,1418) {100/1};
\node[sup] (sl57) at (213,1268) {84/0.97};
\node[sup] (sl58) at (198,1441) {100/1};
\draw[lead] (sl4.east) -- (338,238);
\draw[lead] (sl5.east) -- (332,268);
\draw[lead] (sl6.east) -- (341,300);
\draw[lead] (sl8.east) -- (327,309);
\draw[lead] (sl9.east) -- (332,312);
\draw[lead] (sl19.north) -- (305,525);
\draw[lead] (sl20.north east) -- (292.7,528);
\draw[lead] (sl22.north east) -- (309,571);
\draw[lead] (sl25.east) -- (276,630);
\draw[lead] (sl27.east) -- (294,697);
\draw[lead] (sl28.east) -- (277,702);
\draw[lead] (sl29.east) -- (292,721);
\draw[lead] (sl30.east) -- (270,733);
\draw[lead] (sl33.north east) -- (298,764);
\draw[lead] (sl36.east) -- (257,831);
\draw[lead] (sl37.east) -- (282,850);
\draw[lead] (sl41.east) -- (308,1037);
\draw[lead] (sl42.east) -- (303,1049);
\draw[lead] (sl43.east) -- (308,1079);
\draw[lead] (sl44.east) -- (303,1104);
\draw[lead] (sl50.east) -- (313,1279);
\draw[lead] (sl51.east) -- (312,1306);
\draw[lead] ([xshift=-12pt]sl57.north east) -- (216,1235);
% right support values
\node[sup] (sr1) at (1122,92) {98/1};
\node[sup] (sr2) at (1099,164) {77/0.99};
\node[sup] (sr3) at (1080,186) {94/1};
\node[sup] (sr4) at (1054,215) {-/0.91};
\node[sup] (sr5) at (1060,267) {-/1};
\node[sup] (sr6) at (1099,272) {100/1};
\node[sup] (sr7) at (1122,309) {100/1};
\node[sup] (sr8) at (1088,321.5) {-/1};
\node[supm] (sr9) at (1104,349) {100/1};
\node[sup] (sr10) at (1091,380) {100/1};
\node[sups] (sr11) at (1116,414.4) {83/0.98};
\node[sups] (sr12) at (1107,425.4) {77/0.99};
\node[supm] (sr13) at (1105,436.3) {100/1};
\node[sups] (sr14) at (1113,467.8) {100/0.99};
\node[sup] (sr15) at (1068,476) {90/0.96};
\node[supm] (sr16) at (1105,483) {100/1};
\node[supm] (sr17) at (1054,507.5) {90/0.99};
\node[supm] (sr18) at (1107,513) {100/1};
\node[sups] (sr19) at (1082,535.6) {100/1};
\node[sup] (sr20) at (981,547) {90/0.95};
\node[sup] (sr21) at (1077,563.5) {100/1};
\node[sup] (sr22) at (1082,589.5) {100/1};
\node[sup] (sr23) at (1147,621) {100/1};
\node[sup] (sr24) at (1124,652.5) {100/1};
\node[sup] (sr25) at (1096,677) {100/1};
\node[sup] (sr26) at (1052,685.3) {91/1};
\node[sup] (sr27) at (1113,703) {100/1};
\node[sup] (sr28) at (1035,714) {96/1};
\node[sup] (sr29) at (1113,731.8) {100/1};
\node[sup] (sr30) at (1108,767.4) {100/1};
\node[sup] (sr31) at (1065,775.6) {100/1};
\node[sup] (sr32) at (1068,804) {100/1};
\node[sup] (sr33) at (1063,845) {94/0.99};
\node[sup] (sr34) at (897,971) {100/1};
\node[sup] (sr35) at (1304,882) {100/0.95};
\node[sup] (sr36) at (1305,911) {-/1};
\node[sup] (sr37) at (1287,928.8) {99/1};
\node[sup] (sr38) at (1262,941) {98/0.98};
\node[sup] (sr39) at (1253,957) {1};
\node[sups] (sr40) at (1290,972.5) {90/1};
\node[sup] (sr41) at (1237,982) {96/0.97};
\node[sup] (sr42) at (1239,1016) {93/1};
\node[sup] (sr43) at (1287,1020) {99/-};
\node[sup] (sr44) at (1301,1039.6) {100/1};
\node[sup] (sr45) at (1301,1054.6) {100/1};
\node[sup] (sr46) at (1175,1074) {-/0.96};
\node[sup] (sr47) at (1248,1100) {99/1};
\node[sups] (sr48) at (1296,1100) {100/1};
\node[sup] (sr49) at (1133,1121.6) {97/1};
\node[sup] (sr50) at (1293,1121.6) {94/0.96};
\node[sup] (sr51) at (1288,1134) {100/1};
\node[sup] (sr52) at (1270,1171) {100/1};
\node[sup] (sr53) at (1175,1212) {100/1};
\node[sup] (sr54) at (1155,1229.7) {94/1};
\node[sup] (sr55) at (1133,1253) {98/1};
\node[sups] (sr56) at (1164,1277.6) {100/1};
\node[sup] (sr57) at (1096,1291) {99/1};
\node[sup] (sr58) at (1178,1299.5) {99/1};
\node[sup] (sr59) at (1211,1328) {100/1};
\node[sup] (sr60) at (1211,1366.5) {100/1};
\node[sup] (sr61) at (1169,1376) {98/1};
\node[sup] (sr62) at (1124,1389.7) {95/1};
\node[sup] (sr63) at (1082,1405) {100/1};
\node[sup] (sr64) at (1228,1405) {99/1};
\node[sup] (sr65) at (900,1443) {100/1};
\draw[lead] (sr3.east) -- (1108,194);
\draw[lead] (sr4.north east) -- (1082,197);
\draw[lead] ([yshift=3pt]sr20.east) -- (1029,541.6);
\draw[lead] (sr26.east) -- (1065,697.6);
\draw[lead] (sr38.east) -- (1290,950);
\draw[lead] (sr41.east) -- (1279,987);
\draw[lead] (sr44.east) -- (1318,1056);
\draw[lead] (sr47.north east) -- (1258,1072);
% legend
\fill[legbg, rounded corners=8pt] (1329,1481) rectangle (1498,1561);
\node[font=\fontsize{31}{31}\selectfont] (lg) at (1411,1502) {Lines};
\coordinate (lc1) at (1337,1524.4);
\coordinate (lc2) at (1366,1524.4);
\coordinate (lm1) at (1337,1543.8);
\coordinate (lm2) at (1366,1543.8);
\draw[draw=concol, line width=4.5pt, opacity=0.6] (lc1) -- (lc2);
\draw[draw=nocol, line width=4.5pt] (lm1) -- (lm2);
\node[font=\fontsize{16}{16}\selectfont] (lgc) at (1423,1525) {Concordant};
\node[font=\fontsize{16}{16}\selectfont] (lgn) at (1423,1544) {No concordant};
\end{tikzpicture}
\end{document}
